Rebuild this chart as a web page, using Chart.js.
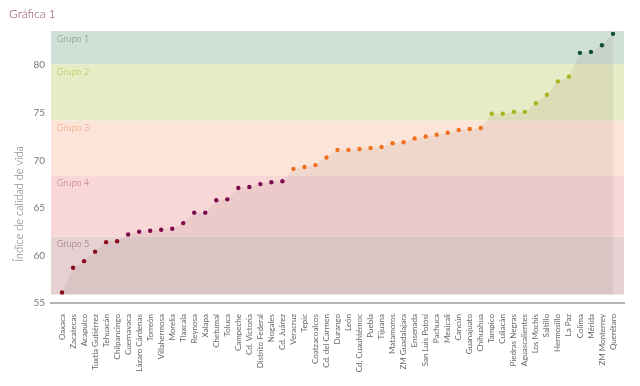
<!DOCTYPE html>
<html><head><meta charset="utf-8">
<script src="https://cdn.jsdelivr.net/npm/chart.js@4.4.1/dist/chart.umd.min.js"></script>
<style>html,body{margin:0;padding:0;background:#fff}</style>
</head><body>
<canvas id="c" width="640" height="386"></canvas>
<script>
const titleText = 'Gráfica 1';
const yTitle = 'Índice de calidad de vida';
const categories = ['Oaxaca','Zacatecas','Acapulco','Tuxtla Gutiérrez','Tehuacán','Chilpancingo','Cuernavaca','Lázaro Cárdenas','Torreón','Villahermosa','Morelia','Tlaxcala','Reynosa','Xalapa','Chetumal','Toluca','Campeche','Cd. Victoria','Distrito Federal','Nogales','Cd. Juárez','Veracruz','Tepic','Coatzacoalcos','Cd. del Carmen','Durango','León','Cd. Cuauhtémoc','Puebla','Tijuana','Matamoros','ZM Guadalajara','Ensenada','San Luis Potosí','Pachuca','Mexicali','Cancún','Guanajuato','Chihuahua','Tampico','Culiacán','Piedras Negras','Aguascalientes','Los Mochis','Saltillo','Hermosillo','La Paz','Colima','Mérida','ZM Monterrey','Querétaro'];
const values = [56.1,58.7,59.4,60.4,61.4,61.5,62.2,62.5,62.6,62.7,62.8,63.4,64.5,64.5,65.8,65.9,67.1,67.2,67.5,67.7,67.8,69.1,69.3,69.5,70.3,71.1,71.1,71.2,71.3,71.4,71.8,71.9,72.3,72.5,72.7,72.9,73.2,73.3,73.4,74.9,74.9,75.1,75.1,76.0,76.9,78.3,78.8,81.3,81.4,82.1,83.3];
const groupOf = [5,5,5,5,5,5, 4,4,4,4,4,4,4,4,4,4,4,4,4,4,4, 3,3,3,3,3,3,3,3,3,3,3,3,3,3,3,3,3,3, 2,2,2,2,2,2,2,2, 1,1,1,1];
const groupNames = ['Grupo 1','Grupo 2','Grupo 3','Grupo 4','Grupo 5'];
const bandEdges = [83.6, 80.1, 74.2, 68.4, 62.0, 55.9];
const yTicks = [55, 60, 65, 70, 75, 80];

const pointColors = {1:'#0d4f2e', 2:'#a9b51c', 3:'#f0701e', 4:'#7b0a4f', 5:'#8c0a1e'};
const bandColors = ['#d1e0d7','#e6ecc5','#fce5d8','#f9d7d7','#e5d1d1'];
const labelColors = ['#6b8b7b','#b3c23f','#f39272','#b46582','#936171'];
const FONT = 'Lato, "DejaVu Sans", sans-serif';

const texts = {
  id: 'texts',
  afterDatasetsDraw(chart) {
    const {ctx, chartArea, scales: {y}} = chart;
    ctx.save();
    ctx.textBaseline = 'middle'; ctx.textAlign = 'left';
    ctx.font = '300 9px ' + FONT;
    groupNames.forEach((n, k) => {
      ctx.fillStyle = labelColors[k];
      ctx.fillText(n, chartArea.left + 6, y.getPixelForValue(bandEdges[k]) + 8);
    });
    ctx.restore();
  },
  afterDraw(chart) {
    const {ctx} = chart;
    ctx.save();
    ctx.textBaseline = 'middle'; ctx.textAlign = 'left';
    ctx.font = '300 12px ' + FONT;
    ctx.fillStyle = '#8b3d5e';
    ctx.fillText(titleText, 9, 14);
    ctx.translate(19, 204); ctx.rotate(-Math.PI / 2);
    ctx.textAlign = 'center';
    ctx.font = '300 11px ' + FONT;
    ctx.fillStyle = '#666';
    ctx.fillText(yTitle, 0, 0);
    ctx.restore();
  }
};

const mainData = categories.map((c, i) => ({x: i + 1, y: values[i]}));
const bandSets = groupNames.map((n, k) => ({
  label: n,
  data: [{x: 0, y: bandEdges[k]}, {x: categories.length + 1, y: bandEdges[k]}],
  fill: {value: bandEdges[k + 1]},
  backgroundColor: bandColors[k],
  borderWidth: 0, borderColor: 'transparent', pointRadius: 0, order: 2
}));

new Chart(document.getElementById('c'), {
  type: 'line',
  data: {
    datasets: [{
      label: 'Índice',
      data: mainData,
      borderWidth: 0, borderColor: 'transparent',
      backgroundColor: 'rgba(90,50,50,0.08)',
      fill: {value: bandEdges[5]},
      tension: 0,
      pointRadius: 2.2, pointBorderWidth: 0,
      pointBackgroundColor: groupOf.map(g => pointColors[g]),
      order: 1
    }, ...bandSets]
  },
  options: {
    responsive: false, animation: false, devicePixelRatio: 1,
    layout: {padding: {top: 31, right: 16, left: 0, bottom: 0}},
    plugins: {legend: {display: false}, tooltip: {enabled: false}, title: {display: false}},
    scales: {
      x: {
        type: 'linear', min: 0, max: categories.length + 1,
        grid: {display: false},
        border: {display: true, color: '#b3b3b3', width: 2},
        ticks: {
          stepSize: 1, autoSkip: false, minRotation: 90, maxRotation: 90, padding: 3,
          color: '#666', font: {family: FONT, size: 8},
          callback: v => categories[v - 1] || ''
        },
        afterFit: s => { s.height = 83; }
      },
      y: {
        type: 'linear', min: 55, max: 83.6, z: 1,
        afterBuildTicks: s => { s.ticks = yTicks.map(v => ({value: v})); },
        grid: {
          drawTicks: false, lineWidth: 1.5,
          color: c => (c.tick && c.tick.value === 55) ? 'rgba(0,0,0,0)' : 'rgba(255,255,255,0.65)'
        },
        border: {display: false},
        ticks: {padding: 6, color: '#777', font: {family: FONT, size: 10}},
        afterFit: s => { s.width = 51; }
      }
    }
  },
  plugins: [texts]
});
</script>
</body></html>
